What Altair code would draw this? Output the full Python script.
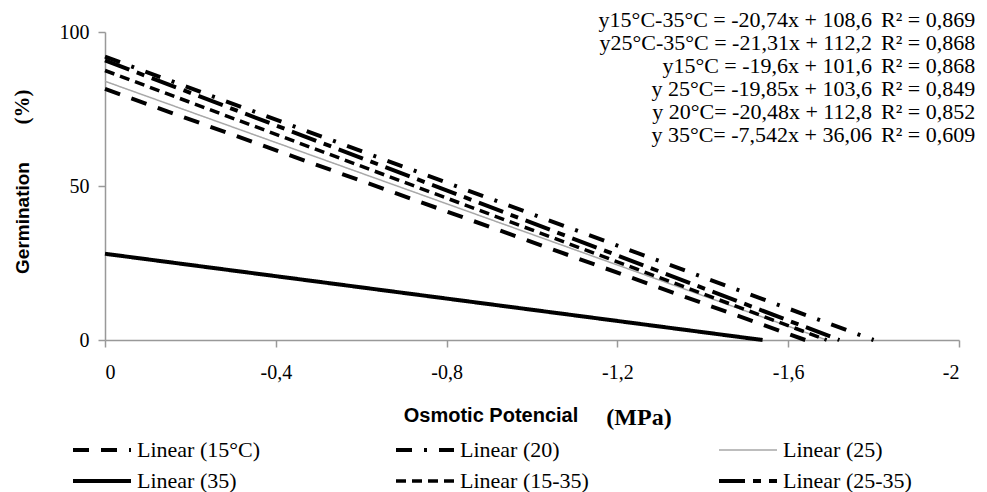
import altair as alt
import pandas as pd

# ---- data ----
series = ["Linear (15°C)", "Linear (20)", "Linear (25)",
          "Linear (35)", "Linear (15-35)", "Linear (25-35)"]
start_germination = [81.5, 92.0, 84.0, 28.0, 87.5, 90.8]      # value at 0 MPa
end_potential = [-1.64, -1.80, -1.69, -1.54, -1.69, -1.72]     # where the line reaches 0 %

x_ticks = [0, -0.4, -0.8, -1.2, -1.6, -2]
y_ticks = [0, 50, 100]

equations = [
    "y15°C-35°C = -20,74x + 108,6",
    "y25°C-35°C = -21,31x + 112,2",
    "y15°C = -19,6x + 101,6",
    "y 25°C= -19,85x + 103,6",
    "y 20°C= -20,48x + 112,8",
    "y 35°C= -7,542x + 36,06",
]
r2_labels = ["R² = 0,869", "R² = 0,868", "R² = 0,868",
             "R² = 0,849", "R² = 0,852", "R² = 0,609"]

# ---- styles ----
colors = ["black", "black", "#a8a8a8", "black", "black", "black"]
dashes = [[16, 12], [16, 12, 3, 12], [1, 0], [1, 0], [10, 6], [26, 8, 8, 8]]
widths = [4, 4, 1.5, 4, 3.5, 4]

rows = []
for s, y0, xe in zip(series, start_germination, end_potential):
    rows.append({"series": s, "potential": 0.0, "germination": y0})
    rows.append({"series": s, "potential": xe, "germination": 0.0})
df = pd.DataFrame(rows)

legend = alt.Legend(
    title=None, orient="none", legendX=-34, legendY=408, columns=3,
    direction="horizontal", gridAlign="all", symbolType="stroke",
    symbolSize=3364, clipHeight=20, rowPadding=9, columnPadding=128,
    labelFont="Liberation Serif", labelFontSize=22, labelColor="black",
    labelOffset=4, labelLimit=300, padding=0,
)

x_label_expr = ("datum.value == 0 ? '0' : '-' + "
                "replace(format(abs(datum.value), '~g'), '.', ',')")

lines = alt.Chart(df).mark_line().encode(
    x=alt.X("potential:Q",
            scale=alt.Scale(domain=[-2, 0], reverse=True, nice=False, zero=False),
            axis=alt.Axis(values=x_ticks, title=None, labelExpr=x_label_expr,
                          grid=False, labelPadding=15)),
    y=alt.Y("germination:Q",
            scale=alt.Scale(domain=[0, 100], nice=False),
            axis=alt.Axis(values=y_ticks, title=None, grid=False, labelPadding=9)),
    color=alt.Color("series:N", scale=alt.Scale(domain=series, range=colors),
                    legend=legend),
    strokeDash=alt.StrokeDash("series:N", scale=alt.Scale(domain=series, range=dashes),
                              legend=legend),
    strokeWidth=alt.StrokeWidth("series:N",
                                scale=alt.Scale(type="ordinal", domain=series, range=widths),
                                legend=legend),
)

eq_layer = alt.Chart(pd.DataFrame({"t": ["\n".join(equations)]})).mark_text(
    align="right", baseline="top", font="Liberation Serif", fontSize=22,
    lineBreak="\n", lineHeight=23, color="black"
).encode(text="t:N", x=alt.value(767), y=alt.value(-22))

r2_layer = alt.Chart(pd.DataFrame({"t": ["\n".join(r2_labels)]})).mark_text(
    align="left", baseline="top", font="Liberation Serif", fontSize=22,
    lineBreak="\n", lineHeight=23, color="black"
).encode(text="t:N", x=alt.value(776), y=alt.value(-22))

ytitle_a = alt.Chart(pd.DataFrame({"t": ["Germination"]})).mark_text(
    angle=270, align="center", baseline="middle", font="Liberation Sans",
    fontSize=19, fontWeight="bold", color="black"
).encode(text="t:N", x=alt.value(-82), y=alt.value(186))

ytitle_b = alt.Chart(pd.DataFrame({"t": ["(%)"]})).mark_text(
    angle=270, align="center", baseline="middle", font="Liberation Serif",
    fontSize=21, fontWeight="bold", color="black"
).encode(text="t:N", x=alt.value(-82), y=alt.value(75))

xtitle_a = alt.Chart(pd.DataFrame({"t": ["Osmotic Potencial"]})).mark_text(
    align="center", baseline="middle", font="Liberation Sans",
    fontSize=20, fontWeight="bold", color="black"
).encode(text="t:N", x=alt.value(386), y=alt.value(384))

xtitle_b = alt.Chart(pd.DataFrame({"t": ["(MPa)"]})).mark_text(
    align="center", baseline="middle", font="Liberation Serif",
    fontSize=24, fontWeight="bold", color="black"
).encode(text="t:N", x=alt.value(534), y=alt.value(386))

chart = alt.layer(
    lines, eq_layer, r2_layer, ytitle_a, ytitle_b, xtitle_a, xtitle_b
).properties(
    width=854, height=308,
    autosize=alt.AutoSizeParams(type="none"),
    padding={"left": 97, "top": 24, "right": 20, "bottom": 152},
).configure_view(stroke=None).configure_axis(
    labelFont="Liberation Serif", labelFontSize=20, labelColor="black",
    tickSize=7, tickColor="#999999", tickWidth=1.5,
    domainColor="#999999", domainWidth=1.5,
)

chart.save("out.html", embed_options={"renderer": "svg", "actions": False})
